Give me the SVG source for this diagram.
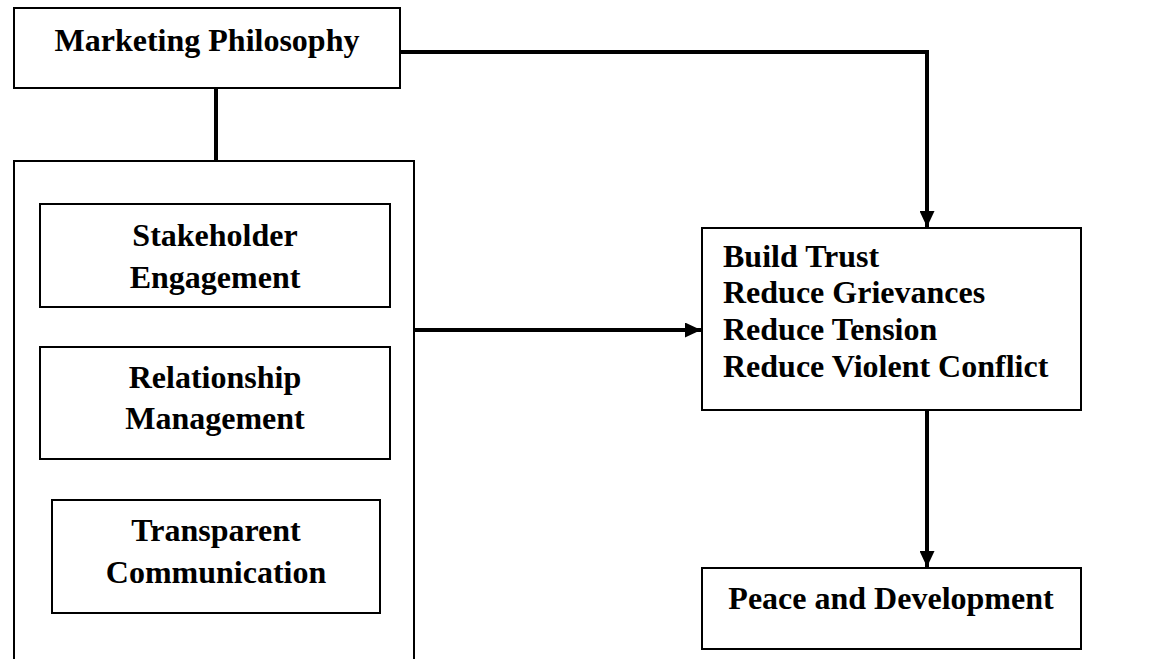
<svg xmlns="http://www.w3.org/2000/svg" width="1154" height="659" viewBox="0 0 1154 659">
<style>
  .box { fill: #ffffff; stroke: #000000; stroke-width: 2; }
  .lbl { font-family: "Liberation Serif", "Times New Roman", serif; font-weight: bold; font-size: 32px; fill: #000000; }
  .mid { text-anchor: middle; }
  .conn { fill: none; stroke: #000000; stroke-width: 4; }
</style>
<defs>
  <marker id="arrow" markerUnits="userSpaceOnUse" markerWidth="16" markerHeight="15" viewBox="0 0 16 15" refX="16" refY="7.5" orient="auto">
    <path d="M0,0 L16,7.5 L0,15 Z" fill="#000000"/>
  </marker>
</defs>
<rect width="1154" height="659" fill="#ffffff"/>

<g id="connectors">
  <line class="conn" x1="216" y1="88" x2="216" y2="161"/>
  <polyline class="conn" points="400,52 927,52 927,227" marker-end="url(#arrow)"/>
  <line class="conn" x1="414" y1="330" x2="701" y2="330" marker-end="url(#arrow)"/>
  <line class="conn" x1="927" y1="410" x2="927" y2="567" marker-end="url(#arrow)"/>
</g>

<g id="marketing-philosophy">
  <rect class="box" x="14" y="8" width="386" height="80"/>
  <text class="lbl mid" x="207" y="51">Marketing Philosophy</text>
</g>

<g id="practices-group">
  <path class="box" d="M14,662 L14,161 L414,161 L414,662" fill="none"/>
</g>

<g id="stakeholder-engagement">
  <rect class="box" x="40" y="204" width="350" height="103"/>
  <text class="lbl mid" x="215" y="246">Stakeholder</text>
  <text class="lbl mid" x="215" y="288">Engagement</text>
</g>

<g id="relationship-management">
  <rect class="box" x="40" y="347" width="350" height="112"/>
  <text class="lbl mid" x="215" y="388">Relationship</text>
  <text class="lbl mid" x="215" y="429">Management</text>
</g>

<g id="transparent-communication">
  <rect class="box" x="52" y="500" width="328" height="113"/>
  <text class="lbl mid" x="216" y="541">Transparent</text>
  <text class="lbl mid" x="216" y="583">Communication</text>
</g>

<g id="outcomes">
  <rect class="box" x="702" y="228" width="379" height="182"/>
  <text class="lbl" x="723" y="267">Build Trust</text>
  <text class="lbl" x="723" y="303">Reduce Grievances</text>
  <text class="lbl" x="723" y="340">Reduce Tension</text>
  <text class="lbl" x="723" y="377">Reduce Violent Conflict</text>
</g>

<g id="peace-development">
  <rect class="box" x="702" y="568" width="379" height="81"/>
  <text class="lbl mid" x="891" y="609">Peace and Development</text>
</g>
</svg>
